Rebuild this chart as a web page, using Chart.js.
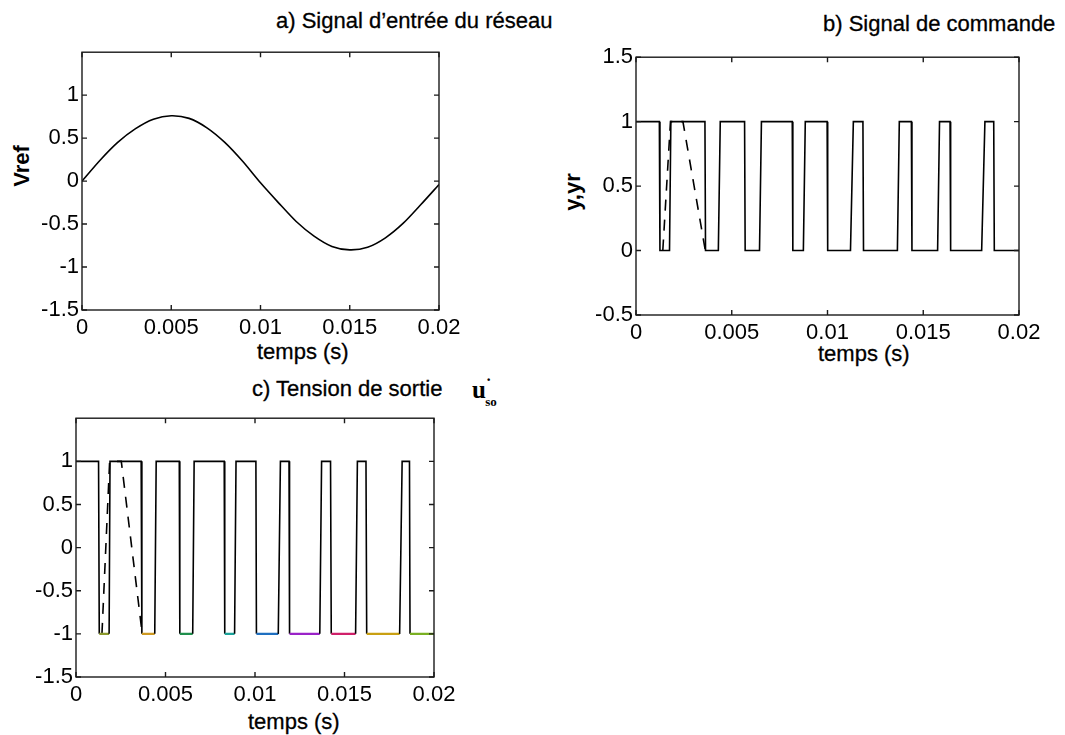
<!DOCTYPE html>
<html lang="fr">
<head>
  <meta charset="UTF-8">
  <title>Onduleur MLI</title>
  <script src="https://cdn.jsdelivr.net/npm/chart.js"></script>
  <style>
    body { margin: 0; background: #fff; }
    #page { position: relative; width: 1065px; height: 735px; overflow: hidden;
            font-family: "Liberation Sans", Arial, sans-serif; color: #000; }
    canvas { position: absolute; }
    .txt { position: absolute; white-space: nowrap; font-size: 22px; line-height: 22px;
           -webkit-text-stroke: 0.3px #000; }
    .ylab { position: absolute; white-space: nowrap; font-size: 22px; line-height: 22px;
            font-weight: bold; transform: translate(-50%, -50%) rotate(-90deg); }
    .uso { position: absolute; font-family: "Liberation Serif", serif; font-weight: bold;
           font-size: 25px; line-height: 24px; }
    .uso sup { font-size: 16px; position: relative; top: -4px; }
    .uso sub { font-size: 13px; position: relative; top: 2px; margin-left: -6px; }
  </style>
</head>
<body>
<div id="page">
  <div class="txt" style="left:276px; top:10px;">a) Signal d’entrée du réseau</div>
  <div class="txt" style="left:823px; top:13px;">b) Signal de commande</div>
  <div class="txt" style="left:252px; top:378px;">c) Tension de sortie</div>
  <div class="uso" style="left:472px; top:372px;">u<sup>·</sup><sub>so</sub></div>

  <div class="txt" style="left:257px; top:341px;">temps (s)</div>
  <div class="txt" style="left:818px; top:343px;">temps (s)</div>
  <div class="txt" style="left:248px; top:711px;">temps (s)</div>

  <div class="ylab" style="left:22px; top:166px;">Vref</div>
  <div class="ylab" style="left:573px; top:192px;">y,yr</div>

  <canvas id="cA"></canvas>
  <canvas id="cB"></canvas>
  <canvas id="cC"></canvas>
</div>

<script>
// time axis, seconds
const xTicks = [0, 0.005, 0.01, 0.015, 0.02];
const yTicksRef = [-1.5, -1, -0.5, 0, 0.5, 1];
const yTicksCmd = [-0.5, 0, 0.5, 1, 1.5];
const yTicksOut = [-1.5, -1, -0.5, 0, 0.5, 1];

// a) reference voltage
const tRef = [0, 0.001, 0.002, 0.003, 0.004, 0.005, 0.006, 0.007, 0.008, 0.009, 0.010,
              0.011, 0.012, 0.013, 0.014, 0.015, 0.016, 0.017, 0.018, 0.019, 0.020];
const vRef = [0.00, 0.24, 0.45, 0.61, 0.72, 0.76, 0.73, 0.62, 0.45, 0.23, -0.02,
              -0.25, -0.47, -0.64, -0.76, -0.80, -0.77, -0.66, -0.49, -0.27, -0.04];

// b) switching command y and its reference yr
const tCmd = [0, 0.00122, 0.00125, 0.00175, 0.00182, 0.00360, 0.00363, 0.00430, 0.00440,
              0.00567, 0.00570, 0.00645, 0.00655, 0.00816, 0.00819, 0.00874, 0.00884,
              0.00998, 0.01001, 0.01120, 0.01135, 0.01185, 0.01188, 0.01365, 0.01375,
              0.01438, 0.01441, 0.01575, 0.01585, 0.01640, 0.01643, 0.01805, 0.01822,
              0.01868, 0.01871, 0.02];
const yCmd = [1, 1, 0, 0, 1, 1, 0, 0, 1, 1, 0, 0, 1, 1, 0, 0, 1, 1,
              0, 0, 1, 1, 0, 0, 1, 1, 0, 0, 1, 1, 0, 0, 1, 1, 0, 0];
const tCmdRef = [0.00140, 0.00180, 0.00245, 0.00362];
const yrCmd = [0, 1, 1, 0];

// c) output voltage
const tOut = [0, 0.00126, 0.00130, 0.00185, 0.00190, 0.00364, 0.00368, 0.00440, 0.00448,
              0.00577, 0.00580, 0.00652, 0.00660, 0.00828, 0.00831, 0.00886, 0.00894,
              0.01005, 0.01008, 0.01130, 0.01142, 0.01190, 0.01193, 0.01362, 0.01372,
              0.01422, 0.01426, 0.01562, 0.01572, 0.01620, 0.01624, 0.01808, 0.01822,
              0.01863, 0.01866, 0.02];
const uOut = [1, 1, -1, -1, 1, 1, -1, -1, 1, 1, -1, -1, 1, 1, -1, -1, 1, 1,
              -1, -1, 1, 1, -1, -1, 1, 1, -1, -1, 1, 1, -1, -1, 1, 1, -1, -1];
const tOutRef = [0.00145, 0.00188, 0.00253, 0.00370];
const urOut = [-1, 1, 1, -1];
// colour of each negative plateau of the output
const lowColors = ['#8c9a2c', '#cf9a22', '#1f8f4c', '#1aa39a', '#1f6fc0',
                   '#9a22c8', '#d0206a', '#c9a012', '#7ab022'];

const INK = '#000';
const pts = (xs, ys) => xs.map((x, i) => ({ x, y: ys[i] }));

// box round the plot area with inward ticks on all four sides
const boxTicks = {
  id: 'boxTicks',
  afterDraw(chart) {
    const { ctx, chartArea: a, scales } = chart;
    const len = 5;
    ctx.save();
    ctx.strokeStyle = '#1a1a1a';
    ctx.lineWidth = 1.4;
    ctx.strokeRect(a.left, a.top, a.right - a.left, a.bottom - a.top);
    ctx.beginPath();
    scales.x.ticks.forEach(t => {
      const px = scales.x.getPixelForValue(t.value);
      ctx.moveTo(px, a.bottom); ctx.lineTo(px, a.bottom - len);
      ctx.moveTo(px, a.top); ctx.lineTo(px, a.top + len);
    });
    scales.y.ticks.forEach(t => {
      const py = scales.y.getPixelForValue(t.value);
      ctx.moveTo(a.left, py); ctx.lineTo(a.left + len, py);
      ctx.moveTo(a.right, py); ctx.lineTo(a.right - len, py);
    });
    ctx.stroke();
    ctx.restore();
  }
};

const Y_W = 70, PAD_T = 16, PAD_R = 36, X_H = 34;

function panel(id, area, yMin, yMax, yTicks, datasets) {
  const cv = document.getElementById(id);
  cv.width = area.r - area.l + Y_W + PAD_R;
  cv.height = area.b - area.t + PAD_T + X_H;
  cv.style.left = (area.l - Y_W) + 'px';
  cv.style.top = (area.t - PAD_T) + 'px';
  const font = { family: '"Liberation Sans", Arial, sans-serif', size: 22 };
  return new Chart(cv, {
    type: 'line',
    data: { datasets },
    options: {
      responsive: false,
      animation: false,
      layout: { padding: { top: PAD_T, right: PAD_R, left: 0, bottom: 0 } },
      plugins: { legend: { display: false }, tooltip: { enabled: false } },
      elements: { point: { radius: 0 }, line: { borderWidth: 1.6, borderColor: INK } },
      scales: {
        x: {
          type: 'linear', min: 0, max: 0.02,
          afterBuildTicks: s => { s.ticks = xTicks.map(v => ({ value: v })); },
          afterFit: s => { s.height = X_H; },
          grid: { display: false, drawTicks: false },
          border: { display: false },
          ticks: { font, color: INK, padding: 5, maxRotation: 0, autoSkip: false,
                   callback: v => String(v) }
        },
        y: {
          min: yMin, max: yMax,
          afterBuildTicks: s => { s.ticks = yTicks.map(v => ({ value: v })); },
          afterFit: s => { s.width = Y_W; },
          grid: { display: false, drawTicks: false },
          border: { display: false },
          ticks: { font, color: INK, padding: 3, callback: v => String(v) }
        }
      }
    },
    plugins: [boxTicks]
  });
}

panel('cA', { l: 82, t: 52, r: 439, b: 310 }, -1.5, 1.5, yTicksRef, [
  { data: pts(tRef, vRef), borderColor: INK, tension: 0.25 }
]);

panel('cB', { l: 636, t: 57, r: 1019, b: 315 }, -0.5, 1.5, yTicksCmd, [
  { data: pts(tCmd, yCmd), borderColor: INK },
  { data: pts(tCmdRef, yrCmd), borderColor: INK, borderDash: [11, 9] }
]);

panel('cC', { l: 76, t: 418, r: 434, b: 677 }, -1.5, 1.5, yTicksOut, [
  { data: pts(tOut, uOut), borderColor: INK,
    segment: {
      borderColor: c => (c.p0DataIndex % 4 === 2) ? lowColors[(c.p0DataIndex - 2) / 4] : INK,
      borderWidth: c => (c.p0DataIndex % 4 === 2) ? 2.2 : 1.6
    } },
  { data: pts(tOutRef, urOut), borderColor: INK, borderDash: [11, 9] }
]);
</script>
</body>
</html>
